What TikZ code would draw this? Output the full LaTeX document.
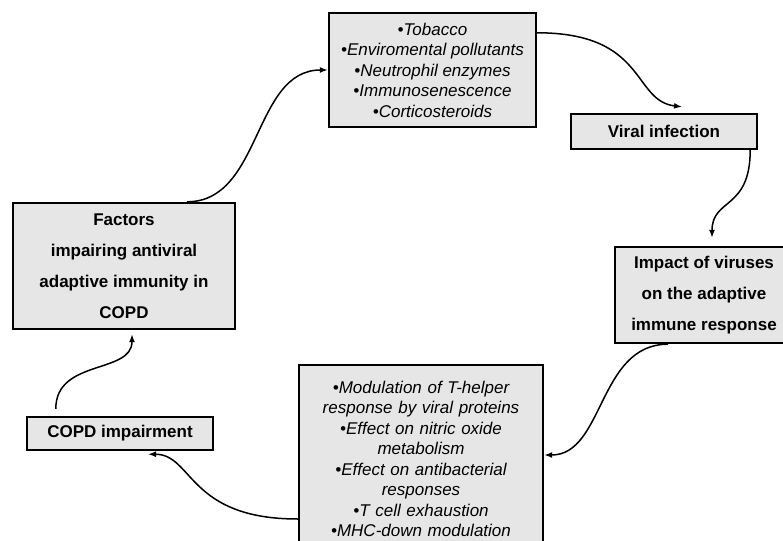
\documentclass[tikz,border=0pt]{standalone}
\usepackage{fontspec}
\setmainfont{Liberation Sans}
\usetikzlibrary{arrows.meta}
\definecolor{boxgray}{HTML}{E6E6E6}
\tikzset{
  box/.style={draw, line width=2.4pt, fill=boxgray, inner sep=4pt, align=center,
    font=\bfseries\fontsize{17}{31}\selectfont},
  listbox/.style={box, font=\itshape\fontsize{17}{20.5}\selectfont},
  arr/.style={line width=1.5pt, -{Latex[length=8pt,width=6pt]}}
}
\begin{document}
\begin{tikzpicture}[x=1pt, y=-1pt]
\useasboundingbox (0,0) rectangle (783,540);
\clip (0,0) rectangle (783,540);

\node[listbox, minimum width=207pt, minimum height=114pt] (risk) at (432.5,70)
  {•Tobacco\\•Enviromental pollutants\\•Neutrophil enzymes\\•Immunosenescence\\•Corticosteroids};
\node[box, minimum width=186pt, minimum height=35pt] (viral) at (664,131.5) {Viral infection};
\node[box, minimum width=178pt, minimum height=96pt] (impact) at (704,295)
  {Impact of viruses\\on the adaptive\\immune response};
\node[listbox, text width=236pt, minimum width=244pt, minimum height=188pt] (effect) at (421,459)
  {•Modulation of T-helper\\response by viral proteins\\•Effect on nitric oxide\\metabolism\\•Effect on antibacterial\\responses\\•T cell exhaustion\\•MHC-down modulation\par\vspace*{20pt}};
\node[box, minimum width=186pt, minimum height=33pt] (copd) at (120,433.5) {COPD impairment};
\node[box, minimum width=222pt, minimum height=126pt] (factors) at (124,266)
  {Factors\\impairing antiviral\\adaptive immunity in\\COPD};

\draw[arr] ([xshift=63pt]factors.north) .. controls +(75,0) and +(-75,0) .. (risk.west);
\draw[arr] ([yshift=-21pt]risk.north east) .. controls +(110,0) and +(-50,-6) .. ([xshift=18pt,yshift=6pt]viral.north);
\draw[arr] ([xshift=-8pt]viral.south east) .. controls +(0,60) and +(0,-40) .. ([xshift=8pt,yshift=8pt]impact.north);
\draw[arr] ([xshift=-36pt]impact.south) .. controls +(-70,0) and +(60,0) .. ([yshift=4pt]effect.east);
\draw[arr] ([yshift=-60pt]effect.west) .. controls +(-110,0) and +(45,0) .. ([xshift=28pt,yshift=-3pt]copd.south);
\draw[arr] ([xshift=30pt,yshift=7pt]copd.north west) .. controls +(0,-50) and +(0,40) .. ([xshift=8pt,yshift=-4pt]factors.south);

\end{tikzpicture}
\end{document}
